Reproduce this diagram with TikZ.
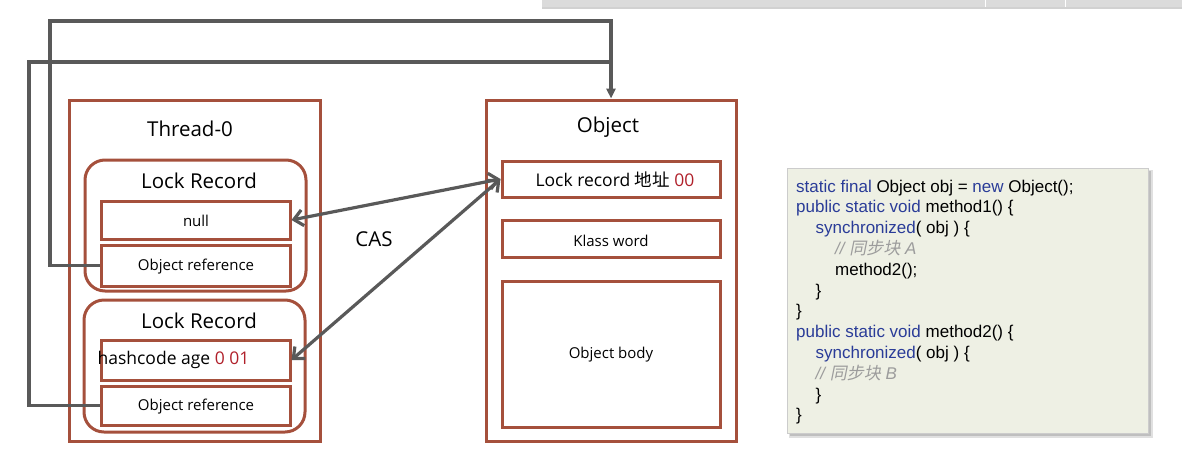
\documentclass[tikz,border=0pt]{standalone}
\usepackage{fontspec}
\setmainfont{Open Sans}
\newfontfamily\cjk{Noto Sans CJK SC}
\newfontfamily\cjkit{Noto Sans CJK SC}[FakeSlant=0.2]
\newfontfamily\codefont{Liberation Sans}
\usetikzlibrary{arrows.meta}
\definecolor{brn}{HTML}{A5503C}
\definecolor{lnk}{HTML}{595959}
\definecolor{kw}{HTML}{2A3C98}
\definecolor{cm}{HTML}{9C9C9C}
\definecolor{codebg}{HTML}{EEF0E4}
\definecolor{redtxt}{HTML}{B0202A}
\tikzset{
  bx/.style={draw=brn, line width=3pt, inner sep=0pt},
  rbx/.style={bx, rounded corners=20pt},
  ttl/.style={font=\fontsize{20.5}{24}\selectfont, inner sep=0pt},
  sm/.style={font=\fontsize{15}{18}\selectfont, inner sep=0pt},
  md/.style={font=\fontsize{17.5}{21}\selectfont, inner sep=0pt},
  conn/.style={draw=lnk, line width=3.2pt},
  cas/.style={draw=lnk, line width=3.2pt, {Straight Barb[length=9pt,width=16pt]}-{Straight Barb[length=9pt,width=16pt]}},
  code/.style={anchor=base west, inner sep=0pt, font=\codefont\fontsize{17}{20}\selectfont},
}
\begin{document}
\begin{tikzpicture}[x=1pt,y=-1pt]
\useasboundingbox (0,0) rectangle (1182,466);
% top bar (screen artifact)
\fill[black!18] (542,-2) rectangle (1182,9);
\fill[black!14] (542,-2) rectangle (1182,7);
\draw[white, line width=1pt] (985,-2) -- (985,7) (1065,-2) -- (1065,7);

% Thread-0
\node[bx, minimum width=251pt, minimum height=341pt] (thread) at (194.5,270.5) {};
\node[ttl] (threadt) at (190,129) {Thread-0};
\node[rbx, minimum width=221pt, minimum height=131pt] (lr1) at (195.5,225.5) {};
\node[ttl] (lr1t) at (199,181) {Lock Record};
\node[bx, minimum width=189pt, minimum height=38pt] (null) at (195.5,220) {};
\node[sm] (nullt) at (196,221) {null};
\node[bx, minimum width=189pt, minimum height=41pt] (or1) at (195.5,265.5) {};
\node[sm] (or1t) at (196,267) {Object reference};
\node[rbx, minimum width=221pt, minimum height=132pt] (lr2) at (194.5,366) {};
\node[ttl] (lr2t) at (199,321) {Lock Record};
\node[bx, minimum width=189pt, minimum height=40pt] (hash) at (195.5,360) {};
\node[md] (hasht) at (173.5,360) {hashcode age \textcolor{redtxt}{0 01}};
\node[bx, minimum width=189pt, minimum height=39pt] (or2) at (195.5,405.5) {};
\node[sm] (or2t) at (196,407) {Object reference};

% Object
\node[bx, minimum width=250pt, minimum height=341pt] (obj) at (611,270.5) {};
\node[ttl] (objt) at (608,127) {Object};
\node[bx, minimum width=218pt, minimum height=36pt] (lrec) at (611,179) {};
\node[md] (lrect) at (615,180) {Lock record {\cjk 地址} \textcolor{redtxt}{00}};
\node[bx, minimum width=218pt, minimum height=37pt] (klass) at (611,238.5) {};
\node[sm] (klasst) at (611,241) {Klass word};
\node[bx, minimum width=218pt, minimum height=146pt] (body) at (611,354) {};
\node[sm] (bodyt) at (611,355) {Object body};

% connectors
\draw[conn, -{Triangle[length=10pt,width=9pt]}] (or1.west) -| (50,21) -| (obj.north);
\draw[conn] (or2.west) -| (29,62) -- (obj.north |- 0,62);
\draw[cas] (null.east) -- (lrec.west);
\draw[cas] (hash.east) -- (lrec.west);
\node[ttl] (cas) at (374,239) {CAS};

% code box
\fill[black!12] (789,170) rectangle (1153,438);
\fill[black!25] (790,171) rectangle (1151,436);
\node[draw=black!20, line width=0.6pt, fill=codebg, minimum width=361pt, minimum height=265pt] (codebox) at (967.5,300.5) {};
\node[code] (l1) at (796,192) {\textcolor{kw}{static final} Object obj = \textcolor{kw}{new} Object();};
\node[code] (l2) at (796,212.8) {\textcolor{kw}{public static void} method1() \{};
\node[code] (l3) at (815.5,233.6) {\textcolor{kw}{synchronized}( obj ) \{};
\node[code] (l4) at (835,254.4) {\textcolor{cm}{\itshape // {\cjkit 同步块} A}};
\node[code] (l5) at (835,275.2) {method2();};
\node[code] (l6) at (815.5,296) {\}};
\node[code] (l7) at (796,316.8) {\}};
\node[code] (l8) at (796,337.6) {\textcolor{kw}{public static void} method2() \{};
\node[code] (l9) at (815.5,358.4) {\textcolor{kw}{synchronized}( obj ) \{};
\node[code] (l10) at (815.5,379.2) {\textcolor{cm}{\itshape // {\cjkit 同步块} B}};
\node[code] (l11) at (815.5,400) {\}};
\node[code] (l12) at (796,420.8) {\}};
\end{tikzpicture}
\end{document}
